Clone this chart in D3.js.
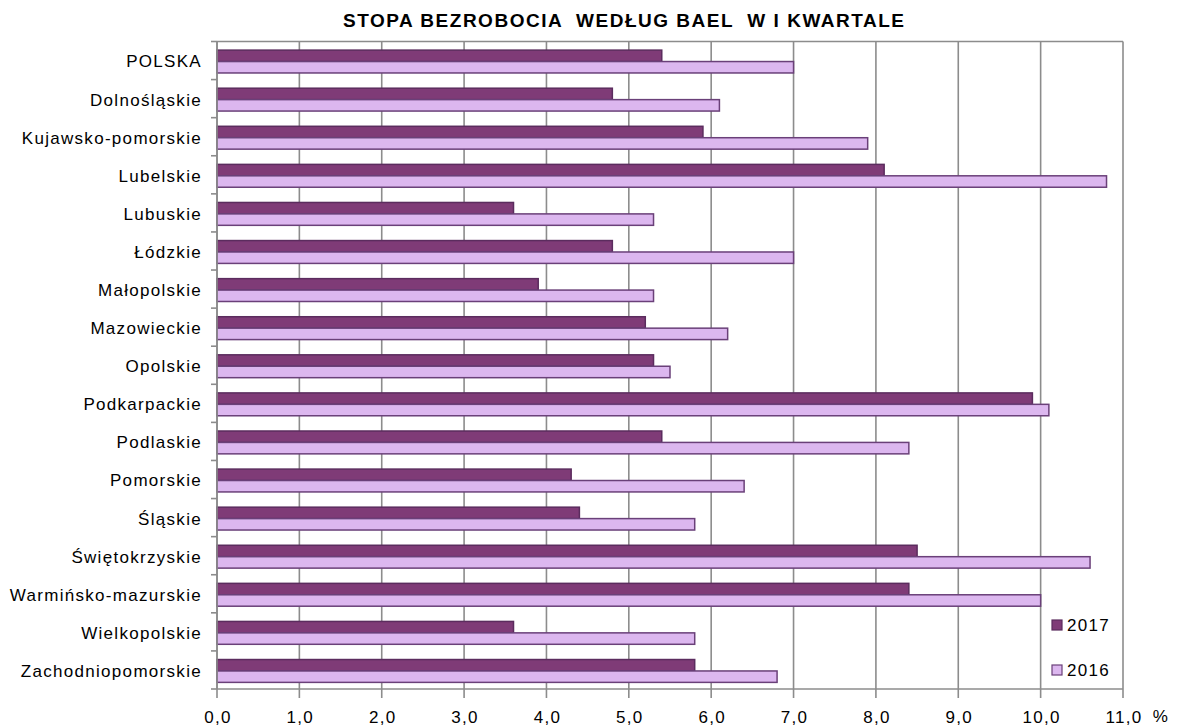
<!DOCTYPE html>
<html lang="pl">
<head>
  <meta charset="UTF-8">
  <script src="https://d3js.org/d3.v7.min.js"></script>
  <title>Stopa bezrobocia według BAEL</title>
  <style>
    body { margin: 0; background: #fff; }
    text { font-family: "Liberation Sans", Arial, sans-serif; fill: #000; }
    .lbl { font-size: 17px; letter-spacing: 1.3px; }
    .grid line { stroke: #8c8c8c; stroke-width: 1.6px; }
  </style>
</head>
<body>
  <svg width="1184" height="728"></svg>
  <script>
    const width = 1184, height = 728;

    // regions, top to bottom
    const regions = [
      "POLSKA", "Dolnośląskie", "Kujawsko-pomorskie", "Lubelskie", "Lubuskie",
      "Łódzkie", "Małopolskie", "Mazowieckie", "Opolskie", "Podkarpackie",
      "Podlaskie", "Pomorskie", "Śląskie", "Świętokrzyskie",
      "Warmińsko-mazurskie", "Wielkopolskie", "Zachodniopomorskie"
    ];
    const years = ["2017", "2016"];
    const values2017 = [5.4, 4.8, 5.9, 8.1, 3.6, 4.8, 3.9, 5.2, 5.3, 9.9, 5.4, 4.3, 4.4, 8.5, 8.4, 3.6, 5.8];
    const values2016 = [7.0, 6.1, 7.9, 10.8, 5.3, 7.0, 5.3, 6.2, 5.5, 10.1, 8.4, 6.4, 5.8, 10.6, 10.0, 5.8, 6.8];
    const xTicks = [0, 1, 2, 3, 4, 5, 6, 7, 8, 9, 10, 11];

    const colors = { "2017": "#7f3b77", "2016": "#dcb7ef" };
    const strokes = { "2017": "#5b2c5e", "2016": "#6a4079" };

    const margin = { top: 41.5, right: 61, bottom: 39, left: 217 };
    const plotW = width - margin.left - margin.right;
    const plotH = height - margin.top - margin.bottom;

    const svg = d3.select("svg");
    const g = svg.append("g").attr("transform", `translate(${margin.left},${margin.top})`);

    const x = d3.scaleLinear().domain([0, 11]).range([0, plotW]);
    const y = d3.scaleBand().domain(regions).range([0, plotH])
      .paddingInner(0.4).paddingOuter(0.2);
    const ySub = d3.scaleBand().domain(years).range([0, y.bandwidth()]);

    // vertical gridlines + plot border
    g.append("g").attr("class", "grid")
      .selectAll("line").data(xTicks).enter().append("line")
      .attr("x1", d => x(d)).attr("x2", d => x(d))
      .attr("y1", 0).attr("y2", plotH);
    g.append("line").attr("x1", 0).attr("x2", plotW).attr("y1", 0).attr("y2", 0)
      .attr("stroke", "#8c8c8c").attr("stroke-width", 1.6);

    // bars
    const rows = regions.map((r, i) => ({ region: r, "2017": values2017[i], "2016": values2016[i] }));
    const rowG = g.append("g").selectAll("g").data(rows).enter().append("g")
      .attr("transform", d => `translate(0,${y(d.region) + 1})`);
    rowG.selectAll("rect")
      .data(d => years.map(k => ({ key: k, value: d[k] })))
      .enter().append("rect")
      .attr("x", 0)
      .attr("y", d => ySub(d.key))
      .attr("width", d => x(d.value))
      .attr("height", ySub.bandwidth())
      .attr("fill", d => colors[d.key])
      .attr("stroke", d => strokes[d.key])
      .attr("stroke-width", 1.5);

    // y axis: labels + ticks at band boundaries
    const step = y.step();
    g.append("line").attr("x1", 0).attr("x2", 0).attr("y1", 0).attr("y2", plotH)
      .attr("stroke", "#8c8c8c").attr("stroke-width", 1.6);
    g.append("g").selectAll("line").data(d3.range(regions.length + 1)).enter().append("line")
      .attr("x1", -6).attr("x2", 0)
      .attr("y1", i => i * step).attr("y2", i => i * step)
      .attr("stroke", "#8c8c8c").attr("stroke-width", 1.6);
    g.append("g").selectAll("text").data(regions).enter().append("text")
      .attr("class", "lbl")
      .attr("x", -15)
      .attr("y", d => y(d) + y.bandwidth() / 2 + 1)
      .attr("dy", "0.35em")
      .attr("text-anchor", "end")
      .text(d => d);

    // x axis
    g.append("line").attr("x1", 0).attr("x2", plotW).attr("y1", plotH).attr("y2", plotH)
      .attr("stroke", "#8c8c8c").attr("stroke-width", 1.6);
    g.append("g").selectAll("line").data(xTicks).enter().append("line")
      .attr("x1", d => x(d)).attr("x2", d => x(d))
      .attr("y1", plotH).attr("y2", plotH + 9)
      .attr("stroke", "#8c8c8c").attr("stroke-width", 1.6);
    const fmt = d => d3.format(".1f")(d).replace(".", ",");
    g.append("g").selectAll("text").data(xTicks).enter().append("text")
      .attr("class", "lbl")
      .attr("x", d => x(d) + 1)
      .attr("y", plotH + 28)
      .attr("dy", "0.35em")
      .attr("text-anchor", "middle")
      .text(fmt);
    g.append("text").attr("class", "lbl")
      .attr("x", plotW + 38).attr("y", plotH + 27).attr("dy", "0.35em")
      .attr("text-anchor", "middle").text("%");

    // title
    svg.append("text")
      .attr("x", 343).attr("y", 20).attr("dy", "0.35em")
      .attr("textLength", 561).attr("lengthAdjust", "spacing")
      .style("font-size", "19px").style("font-weight", "bold")
      .attr("xml:space", "preserve")
      .text("STOPA BEZROBOCIA  WEDŁUG BAEL  W I KWARTALE");

    // legend
    const legend = svg.append("g").attr("transform", "translate(1052,625)");
    years.forEach((k, i) => {
      const lg = legend.append("g").attr("transform", `translate(0,${i * 45})`);
      lg.append("rect").attr("x", 0).attr("y", -5).attr("width", 10).attr("height", 10)
        .attr("fill", colors[k]).attr("stroke", strokes[k]).attr("stroke-width", 1.2);
      lg.append("text").attr("class", "lbl").attr("x", 15).attr("y", 0).attr("dy", "0.35em")
        .text(k);
    });
  </script>
</body>
</html>
